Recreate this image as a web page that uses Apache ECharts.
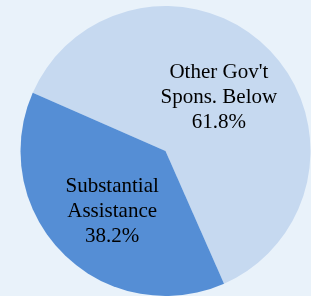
<!DOCTYPE html>
<html>
<head>
<meta charset="utf-8">
<script src="https://cdn.jsdelivr.net/npm/echarts@6/dist/echarts.min.js"></script>
<style>
  html, body { margin: 0; padding: 0; background: #e9f2fa; }
  #chart { width: 311px; height: 296px; }
</style>
</head>
<body>
<div id="chart"></div>
<script>
 // slice names, shares (%) and colours
 var names = ["Other Gov't\nSpons. Below", 'Substantial\nAssistance'];
 var shares = [61.8, 38.2];
 var colors = ['#c6d9f0', '#558ed5'];
 // vertical nudge per label (px)
 var labelShift = [0, 7];

 var myChart = echarts.init(document.getElementById('chart'));
 var pieData = [];
 for (var i = 0; i < names.length; i++) {
     pieData.push({
         name: names[i],
         value: shares[i],
         itemStyle: {color: colors[i]}
     });
 }
 option = {
     backgroundColor: '#e9f2fa',
     animation: false,
     series: [
         {
             type: 'pie',
             center: [165.5, 151],
             radius: 145,
             startAngle: 156.3,
             clockwise: true,
             itemStyle: {borderWidth: 0},
             label: {
                 show: true,
                 position: 'inside',
                 color: '#000',
                 fontFamily: '"Liberation Serif", "Times New Roman", serif',
                 fontSize: 21,
                 lineHeight: 25,
                 formatter: function (p) {
                     return p.name + '\n' + p.value.toFixed(1) + '%';
                 }
             },
             labelLayout: function (params) {
                 return {dy: labelShift[params.dataIndex]};
             },
             labelLine: {show: false},
             emphasis: {disabled: true},
             data: pieData
         }
     ]
 };
 myChart.setOption(option);
</script>
</body>
</html>
